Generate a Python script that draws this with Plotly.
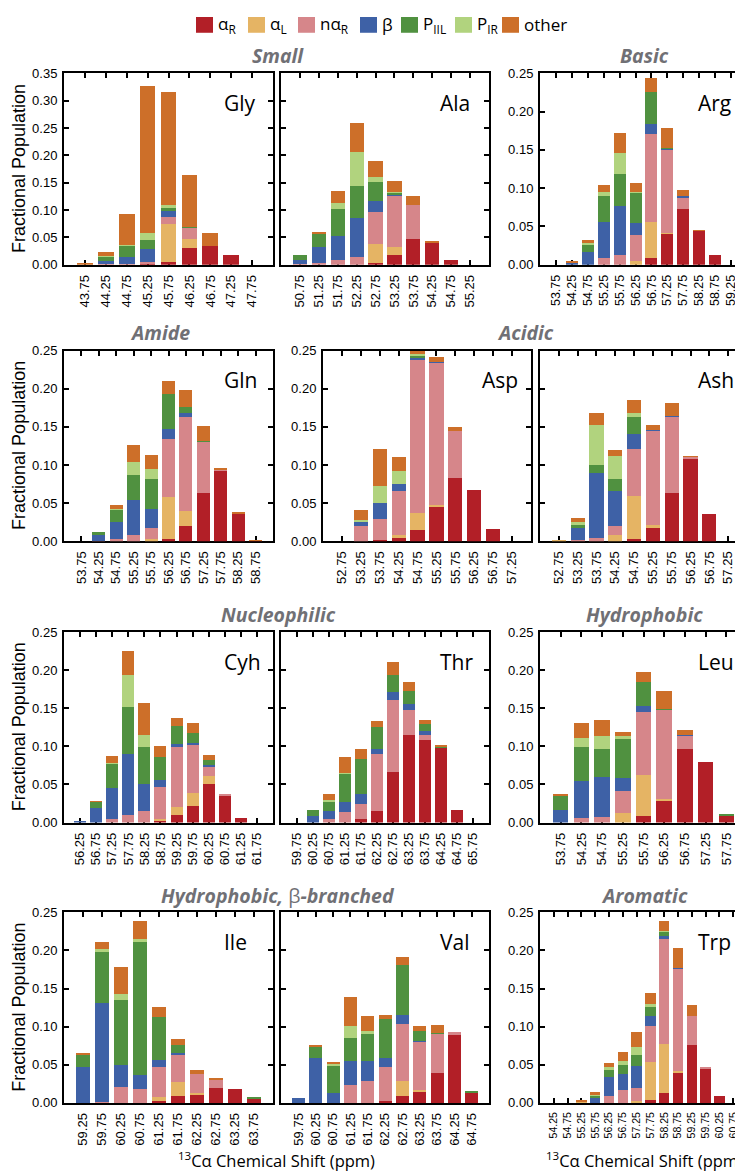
import plotly.graph_objects as go

# ---------------- data ----------------
STATE_NAMES = ["αR", "αL", "nαR", "β", "PIIL", "PIR", "other"]
STATE_LABELS = ["α<sub>R</sub>", "α<sub>L</sub>", "nα<sub>R</sub>", "β",
                "P<sub>IIL</sub>", "P<sub>IR</sub>", "other"]
STATE_COLORS = ["#b21f27", "#e5b464", "#d6868a", "#3e61a6", "#509140", "#b1d37e", "#cd6f29"]

gly_shift = [43.75, 44.25, 44.75, 45.25, 45.75, 46.25, 46.75, 47.25, 47.75]
gly_aR    = [0, 0, 0, 0.001, 0.004, 0.030, 0.034, 0.018, 0]
gly_aL    = [0, 0, 0, 0.001, 0.070, 0.017, 0, 0, 0]
gly_naR   = [0, 0.001, 0.001, 0.003, 0.012, 0.020, 0, 0, 0]
gly_beta  = [0, 0.005, 0.013, 0.024, 0.012, 0, 0, 0, 0]
gly_pIIL  = [0, 0.009, 0.020, 0.015, 0.007, 0.001, 0, 0, 0]
gly_pIR   = [0, 0.001, 0.001, 0.013, 0.003, 0, 0, 0, 0]
gly_other = [0.001, 0.006, 0.058, 0.270, 0.207, 0.096, 0.024, 0, 0]

ala_shift = [50.75, 51.25, 51.75, 52.25, 52.75, 53.25, 53.75, 54.25, 54.75, 55.25]
ala_aR    = [0, 0, 0, 0, 0.003, 0.017, 0.046, 0.041, 0.009, 0]
ala_aL    = [0, 0, 0, 0, 0.035, 0.015, 0, 0, 0, 0]
ala_naR   = [0.001, 0.003, 0.008, 0.013, 0.058, 0.094, 0.062, 0, 0, 0]
ala_beta  = [0.007, 0.029, 0.045, 0.072, 0.020, 0.002, 0, 0, 0, 0]
ala_pIIL  = [0.009, 0.025, 0.049, 0.059, 0.035, 0.003, 0, 0, 0, 0]
ala_pIR   = [0, 0, 0.010, 0.061, 0.009, 0.001, 0, 0, 0, 0]
ala_other = [0, 0.003, 0.023, 0.053, 0.029, 0.020, 0.017, 0.001, 0, 0]

arg_shift = [53.75, 54.25, 54.75, 55.25, 55.75, 56.25, 56.75, 57.25, 57.75, 58.25, 58.75, 59.25]
arg_aR    = [0, 0, 0, 0, 0, 0, 0.009, 0.040, 0.072, 0.044, 0.012, 0]
arg_aL    = [0, 0, 0, 0, 0, 0.004, 0.047, 0.001, 0, 0, 0, 0]
arg_naR   = [0, 0, 0, 0.008, 0.012, 0.035, 0.115, 0.109, 0.016, 0, 0, 0]
arg_beta  = [0, 0.002, 0.017, 0.047, 0.064, 0.015, 0.013, 0.001, 0.001, 0, 0, 0]
arg_pIIL  = [0, 0.001, 0.008, 0.034, 0.042, 0.040, 0.041, 0.001, 0, 0, 0, 0]
arg_pIR   = [0, 0, 0.003, 0.006, 0.027, 0.001, 0, 0, 0, 0, 0, 0]
arg_other = [0, 0.001, 0.004, 0.009, 0.027, 0.012, 0.019, 0.026, 0.008, 0.001, 0, 0]

gln_shift = [53.75, 54.25, 54.75, 55.25, 55.75, 56.25, 56.75, 57.25, 57.75, 58.25, 58.75]
gln_aR    = [0, 0, 0, 0, 0, 0.003, 0.021, 0.064, 0.093, 0.037, 0.001]
gln_aL    = [0, 0, 0, 0, 0.003, 0.055, 0.019, 0, 0, 0, 0]
gln_naR   = [0, 0.001, 0.003, 0.009, 0.015, 0.076, 0.124, 0.067, 0.002, 0, 0]
gln_beta  = [0, 0.008, 0.023, 0.046, 0.025, 0.014, 0.004, 0, 0, 0, 0]
gln_pIIL  = [0, 0.004, 0.016, 0.032, 0.039, 0.046, 0.008, 0.001, 0, 0, 0]
gln_pIR   = [0, 0, 0.001, 0.018, 0.013, 0, 0, 0, 0, 0, 0]
gln_other = [0, 0, 0.005, 0.022, 0.018, 0.016, 0.023, 0.020, 0.002, 0.001, 0.001]

asp_shift = [52.75, 53.25, 53.75, 54.25, 54.75, 55.25, 55.75, 56.25, 56.75, 57.25]
asp_aR    = [0, 0, 0.002, 0.005, 0.015, 0.046, 0.083, 0.068, 0.017, 0]
asp_aL    = [0, 0, 0, 0.003, 0.022, 0.002, 0, 0, 0, 0]
asp_naR   = [0, 0.021, 0.028, 0.058, 0.201, 0.187, 0.062, 0, 0, 0]
asp_beta  = [0, 0.005, 0.020, 0.009, 0.004, 0.001, 0, 0, 0, 0]
asp_pIIL  = [0, 0, 0, 0, 0.002, 0, 0, 0, 0, 0]
asp_pIR   = [0, 0.002, 0.023, 0.018, 0.002, 0, 0, 0, 0, 0]
asp_other = [0, 0.014, 0.048, 0.018, 0.004, 0.006, 0.005, 0, 0, 0]

ash_shift = [52.75, 53.25, 53.75, 54.25, 54.75, 55.25, 55.75, 56.25, 56.75, 57.25]
ash_aR    = [0, 0, 0, 0, 0.003, 0.018, 0.064, 0.108, 0.036, 0]
ash_aL    = [0.001, 0, 0, 0.008, 0.057, 0.004, 0, 0, 0, 0]
ash_naR   = [0, 0.002, 0.005, 0.012, 0.061, 0.124, 0.100, 0.003, 0, 0]
ash_beta  = [0, 0.016, 0.085, 0.046, 0.020, 0.001, 0.001, 0, 0, 0]
ash_pIIL  = [0, 0.004, 0.010, 0.016, 0.022, 0, 0, 0, 0, 0]
ash_pIR   = [0, 0.004, 0.053, 0.030, 0.005, 0, 0, 0, 0, 0]
ash_other = [0, 0.005, 0.016, 0.008, 0.018, 0.006, 0.017, 0.001, 0, 0]

cyh_shift = [56.25, 56.75, 57.25, 57.75, 58.25, 58.75, 59.25, 59.75, 60.25, 60.75, 61.25, 61.75]
cyh_aR    = [0, 0, 0, 0, 0, 0.003, 0.010, 0.022, 0.050, 0.036, 0.006, 0]
cyh_aL    = [0, 0, 0, 0, 0, 0.001, 0.010, 0.017, 0.011, 0, 0, 0]
cyh_naR   = [0, 0, 0.005, 0.010, 0.015, 0.042, 0.079, 0.064, 0.013, 0.001, 0, 0]
cyh_beta  = [0.002, 0.019, 0.040, 0.080, 0.035, 0.010, 0.004, 0.002, 0.002, 0, 0, 0]
cyh_pIIL  = [0, 0.008, 0.032, 0.061, 0.049, 0.030, 0.024, 0.012, 0.006, 0, 0, 0]
cyh_pIR   = [0, 0, 0.001, 0.042, 0.016, 0, 0, 0, 0, 0, 0, 0]
cyh_other = [0, 0.001, 0.009, 0.032, 0.042, 0.014, 0.010, 0.014, 0.007, 0, 0, 0]

thr_shift = [59.75, 60.25, 60.75, 61.25, 61.75, 62.25, 62.75, 63.25, 63.75, 64.25, 64.75, 65.25]
thr_ticktext = ["59.75", "60.25", "60.75", "61.25", "61.75", "62.25", "62.75",
                "63.25", "63.75", "64.25", "64.75", "65.75"]
thr_aR    = [0, 0, 0, 0, 0.004, 0.015, 0.066, 0.115, 0.108, 0.098, 0.016, 0]
thr_aL    = [0, 0, 0, 0, 0, 0, 0, 0, 0, 0, 0, 0]
thr_naR   = [0, 0, 0.004, 0.014, 0.020, 0.075, 0.095, 0.033, 0.007, 0, 0, 0]
thr_beta  = [0, 0.008, 0.011, 0.013, 0.013, 0.007, 0.010, 0.007, 0.005, 0, 0, 0]
thr_pIIL  = [0, 0.008, 0.013, 0.037, 0.047, 0.029, 0.023, 0.017, 0.009, 0.002, 0, 0]
thr_pIR   = [0, 0, 0.001, 0.001, 0, 0, 0, 0, 0, 0, 0, 0]
thr_other = [0, 0, 0.009, 0.021, 0.013, 0.007, 0.017, 0.012, 0.005, 0.001, 0, 0]

leu_shift = [53.75, 54.25, 54.75, 55.25, 55.75, 56.25, 56.75, 57.25, 57.75]
leu_aR    = [0, 0, 0, 0, 0.009, 0.029, 0.096, 0.080, 0.009]
leu_aL    = [0, 0, 0, 0.013, 0.053, 0.002, 0, 0, 0]
leu_naR   = [0, 0.006, 0.007, 0.028, 0.083, 0.117, 0.018, 0, 0]
leu_beta  = [0.017, 0.049, 0.053, 0.018, 0.008, 0, 0.001, 0, 0]
leu_pIIL  = [0.019, 0.044, 0.036, 0.051, 0.031, 0.001, 0, 0, 0.001]
leu_pIR   = [0, 0.012, 0.018, 0.003, 0, 0, 0, 0, 0]
leu_other = [0.001, 0.020, 0.020, 0.006, 0.014, 0.023, 0.006, 0, 0]

ile_shift = [59.25, 59.75, 60.25, 60.75, 61.25, 61.75, 62.25, 62.75, 63.25, 63.75]
ile_aR    = [0, 0, 0, 0, 0.002, 0.009, 0.011, 0.019, 0.018, 0.005]
ile_aL    = [0, 0, 0, 0, 0.005, 0.018, 0.001, 0, 0, 0]
ile_naR   = [0, 0.001, 0.021, 0.018, 0.039, 0.035, 0.025, 0.011, 0, 0]
ile_beta  = [0.047, 0.129, 0.028, 0.018, 0.010, 0.003, 0, 0, 0, 0]
ile_pIIL  = [0.016, 0.068, 0.086, 0.175, 0.056, 0.011, 0, 0, 0, 0.001]
ile_pIR   = [0, 0.003, 0.008, 0.004, 0, 0, 0, 0, 0, 0]
ile_other = [0.001, 0.009, 0.035, 0.023, 0.013, 0.008, 0.006, 0.002, 0, 0]

val_shift = [59.75, 60.25, 60.75, 61.25, 61.75, 62.25, 62.75, 63.25, 63.75, 64.25, 64.75]
val_aR    = [0, 0, 0, 0, 0, 0.002, 0.009, 0.015, 0.039, 0.089, 0.013]
val_aL    = [0, 0, 0, 0, 0, 0, 0.019, 0.001, 0, 0, 0]
val_naR   = [0, 0, 0, 0.023, 0.028, 0.045, 0.075, 0.064, 0.051, 0.003, 0]
val_beta  = [0.006, 0.059, 0.013, 0.031, 0.026, 0.011, 0.012, 0.001, 0, 0, 0]
val_pIIL  = [0, 0.015, 0.036, 0.031, 0.036, 0.052, 0.065, 0.013, 0.001, 0, 0.001]
val_pIR   = [0, 0, 0.001, 0.015, 0.004, 0, 0, 0, 0, 0, 0]
val_other = [0, 0.001, 0.003, 0.039, 0.019, 0.005, 0.011, 0.007, 0.011, 0, 0]

trp_shift = [54.25, 54.75, 55.25, 55.75, 56.25, 56.75, 57.25, 57.75, 58.25, 58.75, 59.25, 59.75, 60.25, 60.75]
trp_aR    = [0, 0, 0, 0, 0, 0, 0, 0.003, 0.012, 0.040, 0.075, 0.045, 0.009, 0]
trp_aL    = [0, 0, 0.001, 0, 0, 0, 0.002, 0.050, 0.065, 0.002, 0, 0, 0, 0]
trp_naR   = [0, 0, 0, 0, 0.008, 0.017, 0.017, 0.047, 0.138, 0.134, 0.038, 0.001, 0, 0]
trp_beta  = [0, 0, 0, 0.006, 0.025, 0.021, 0.029, 0.013, 0.003, 0.001, 0, 0, 0, 0]
trp_pIIL  = [0, 0, 0.001, 0.003, 0.010, 0.011, 0.014, 0.013, 0.006, 0, 0, 0, 0, 0]
trp_pIR   = [0, 0, 0, 0.001, 0.003, 0.006, 0.011, 0.003, 0.001, 0, 0, 0, 0, 0]
trp_other = [0, 0, 0.001, 0.004, 0.006, 0.011, 0.019, 0.015, 0.013, 0.026, 0.015, 0, 0, 0]

CATEGORY_TITLES = ["<b><i>Small</i></b>", "<b><i>Basic</i></b>", "<b><i>Amide</i></b>",
                   "<b><i>Acidic</i></b>", "<b><i>Nucleophilic</i></b>", "<b><i>Hydrophobic</i></b>",
                   "<b><i>Hydrophobic,</i></b> β<b><i>-branched</i></b>", "<b><i>Aromatic</i></b>"]
Y_TITLE = "Fractional Population"
X_TITLE = "<sup>13</sup>Cα Chemical Shift (ppm)"

# ---------------- layout geometry (pixels) ----------------
W, H = 743, 1173
ROWS = {1: (59, 253), 2: (340, 533), 3: (625, 818), 4: (909, 1102)}
COL_A, COL_B, COL_C, COL_B2 = (56, 265), (273, 481), (532, 739), (315, 523)

# name, shifts, series, column, row, ymax, show y labels, tick font size, tick text
panels = [
    ("Gly", gly_shift, [gly_aR, gly_aL, gly_naR, gly_beta, gly_pIIL, gly_pIR, gly_other], COL_A, 1, 0.35, True, 13, None),
    ("Ala", ala_shift, [ala_aR, ala_aL, ala_naR, ala_beta, ala_pIIL, ala_pIR, ala_other], COL_B, 1, 0.35, False, 13, None),
    ("Arg", arg_shift, [arg_aR, arg_aL, arg_naR, arg_beta, arg_pIIL, arg_pIR, arg_other], COL_C, 1, 0.25, True, 12.5, None),
    ("Gln", gln_shift, [gln_aR, gln_aL, gln_naR, gln_beta, gln_pIIL, gln_pIR, gln_other], COL_A, 2, 0.25, True, 13, None),
    ("Asp", asp_shift, [asp_aR, asp_aL, asp_naR, asp_beta, asp_pIIL, asp_pIR, asp_other], COL_B2, 2, 0.25, True, 13, None),
    ("Ash", ash_shift, [ash_aR, ash_aL, ash_naR, ash_beta, ash_pIIL, ash_pIR, ash_other], COL_C, 2, 0.25, False, 13, None),
    ("Cyh", cyh_shift, [cyh_aR, cyh_aL, cyh_naR, cyh_beta, cyh_pIIL, cyh_pIR, cyh_other], COL_A, 3, 0.25, True, 13, None),
    ("Thr", thr_shift, [thr_aR, thr_aL, thr_naR, thr_beta, thr_pIIL, thr_pIR, thr_other], COL_B, 3, 0.25, False, 13, thr_ticktext),
    ("Leu", leu_shift, [leu_aR, leu_aL, leu_naR, leu_beta, leu_pIIL, leu_pIR, leu_other], COL_C, 3, 0.25, True, 13, None),
    ("Ile", ile_shift, [ile_aR, ile_aL, ile_naR, ile_beta, ile_pIIL, ile_pIR, ile_other], COL_A, 4, 0.25, True, 13, None),
    ("Val", val_shift, [val_aR, val_aL, val_naR, val_beta, val_pIIL, val_pIR, val_other], COL_B, 4, 0.25, False, 13, None),
    ("Trp", trp_shift, [trp_aR, trp_aL, trp_naR, trp_beta, trp_pIIL, trp_pIR, trp_other], COL_C, 4, 0.25, True, 10.5, None),
]

TICK_FONT = "Liberation Sans, Arial, Helvetica, sans-serif"
TEXT_FONT = "Open Sans, Noto Sans, sans-serif"

fig = go.Figure()
layout = dict(
    width=W, height=H, margin=dict(l=0, r=0, t=0, b=0),
    paper_bgcolor="white", plot_bgcolor="white",
    barmode="stack", showlegend=False, bargap=0,
)
annotations = []
shapes = []

for i, (name, shifts, series, col, row, ymax, showy, tfs, ttext) in enumerate(panels, start=1):
    sfx = "" if i == 1 else str(i)
    for s_name, s_vals, s_col in zip(STATE_NAMES, series, STATE_COLORS):
        fig.add_trace(go.Bar(
            x=shifts, y=s_vals, name=s_name, width=0.375,
            marker=dict(color=s_col, line=dict(width=0)),
            xaxis="x" + sfx, yaxis="y" + sfx, showlegend=False,
            hovertemplate=name + " %{x}: %{y}<extra>" + s_name + "</extra>",
        ))
    top, bot = ROWS[row]
    step = shifts[1] - shifts[0]
    layout["xaxis" + sfx] = dict(
        domain=[col[0] / W, col[1] / W], anchor="y" + sfx,
        range=[shifts[0] - step, shifts[-1] + step],
        tickmode="array", tickvals=shifts,
        ticktext=ttext if ttext is not None else ["%.2f" % v for v in shifts],
        tickangle=-90, ticks="inside", ticklen=5, tickwidth=1.5, tickcolor="black",
        showline=True, linewidth=2, linecolor="black", mirror="allticks",
        showgrid=False, zeroline=False, layer="below traces",
        tickfont=dict(family=TICK_FONT, size=tfs, color="black"),
        ticklabelstandoff=3, fixedrange=True,
    )
    layout["yaxis" + sfx] = dict(
        domain=[1 - bot / H, 1 - top / H], anchor="x" + sfx,
        range=[0, ymax], dtick=0.05, tickformat=".2f",
        ticks="inside", ticklen=5, tickwidth=1.5, tickcolor="black",
        showline=True, linewidth=2, linecolor="black", mirror="allticks",
        showgrid=False, zeroline=False, showticklabels=showy,
        tickfont=dict(family=TICK_FONT, size=13, color="black"),
        ticklabelstandoff=2, fixedrange=True,
    )
    annotations.append(dict(
        text=name, xref="x" + sfx + " domain", yref="y" + sfx + " domain",
        x=0.755, y=0.845, xanchor="left", yanchor="middle", showarrow=False,
        font=dict(family=TEXT_FONT, size=21, color="black"),
    ))

# category titles (pixel centres)
cat_pos = [(270, 41), (636, 41), (152, 322), (517, 322), (270, 607), (636, 607), (270, 892), (636, 892)]
for txt, (cx, cy) in zip(CATEGORY_TITLES, cat_pos):
    annotations.append(dict(
        text=txt, xref="paper", yref="paper", x=cx / W, y=1 - cy / H,
        xanchor="center", yanchor="middle", showarrow=False,
        font=dict(family=TEXT_FONT, size=19.5, color="#707075"),
    ))

# y-axis titles for each row
for row, (top, bot) in ROWS.items():
    annotations.append(dict(
        text=Y_TITLE, xref="paper", yref="paper", x=11 / W, y=1 - (top + bot) / 2 / H,
        xanchor="center", yanchor="middle", textangle=-90, showarrow=False,
        font=dict(family=TICK_FONT, size=18, color="black"),
    ))

# x-axis titles
for cx in (268, 636):
    annotations.append(dict(
        text=X_TITLE, xref="paper", yref="paper", x=cx / W, y=1 - 1160 / H,
        xanchor="center", yanchor="middle", showarrow=False,
        font=dict(family=TEXT_FONT, size=16.5, color="black"),
    ))

# legend (swatches + labels)
leg_left = [188, 240, 290, 352, 393, 447, 494]
for lbl, col, lx in zip(STATE_LABELS, STATE_COLORS, leg_left):
    shapes.append(dict(type="rect", xref="paper", yref="paper",
                       x0=lx / W, x1=(lx + 17) / W, y0=1 - 18 / H, y1=1 - 2 / H,
                       fillcolor=col, line=dict(width=0)))
    annotations.append(dict(
        text=lbl, xref="paper", yref="paper", x=(lx + 20) / W, y=1 - 10 / H,
        xanchor="left", yanchor="middle", showarrow=False,
        font=dict(family=TEXT_FONT, size=17, color="black"),
    ))

layout["annotations"] = annotations
layout["shapes"] = shapes
fig.update_layout(**layout)
fig.write_html("out.html")
